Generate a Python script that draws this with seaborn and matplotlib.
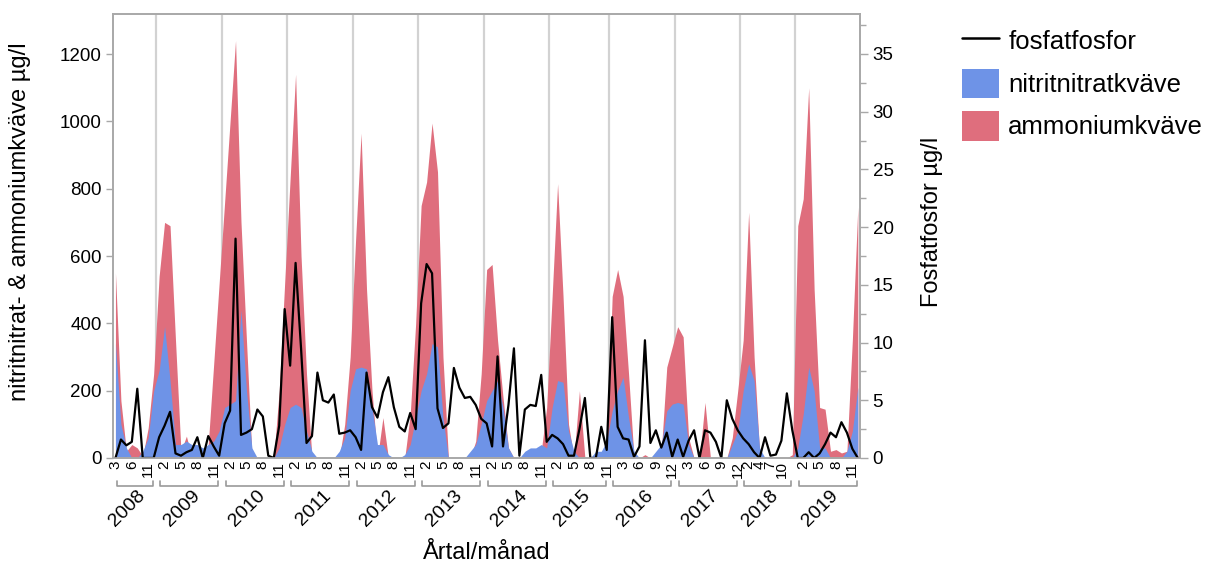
import pandas as pd
import matplotlib
matplotlib.use("Agg")
import matplotlib.pyplot as plt
import seaborn as sns
from matplotlib.lines import Line2D
from matplotlib.patches import Patch
from matplotlib.ticker import MultipleLocator
from matplotlib.transforms import blended_transform_factory

sns.set_theme(style="white")
plt.rcParams["font.family"] = ["Liberation Sans", "DejaVu Sans"]
plt.rcParams["text.color"] = "black"

# ---- data: one sample per (year, month), x axis is just the sample order ----
years = [2008, 2009, 2010, 2011, 2012, 2013, 2014, 2015, 2016, 2017, 2018, 2019]
months = [
    [3, 4, 5, 6, 8, 9, 11, 12],
    [1, 2, 3, 4, 5, 6, 7, 8, 9, 10, 11, 12],
    [1, 2, 3, 4, 5, 6, 7, 8, 9, 10, 11, 12],
    [1, 2, 3, 4, 5, 6, 7, 8, 9, 10, 11, 12],
    [1, 2, 3, 4, 5, 6, 7, 8, 9, 10, 11, 12],
    [1, 2, 3, 4, 5, 6, 7, 8, 9, 10, 11, 12],
    [1, 2, 3, 4, 5, 6, 7, 8, 9, 10, 11, 12],
    [1, 2, 3, 4, 5, 6, 7, 8, 9, 10, 11],
    [1, 2, 3, 4, 5, 6, 7, 8, 9, 10, 11, 12],
    [1, 2, 3, 4, 5, 6, 7, 8, 9, 10, 11, 12],
    [1, 2, 3, 4, 5, 7, 8, 10, 11, 12],
    [1, 2, 3, 4, 5, 6, 7, 8, 9, 10, 11, 12],
]
# months that get a tick label
label_months = [
    [3, 6, 11], [2, 5, 8, 11], [2, 5, 8, 11], [2, 5, 8, 11], [2, 5, 8, 11],
    [2, 5, 8, 11], [2, 5, 8, 11], [2, 5, 8, 11], [3, 6, 9, 12], [3, 6, 9, 12],
    [2, 4, 7, 10], [2, 5, 8, 11],
]

# ammoniumkväve, µg/l
ammonium = [
    550, 170, 20, 40, 30, 5, 90, 250,
    540, 700, 690, 350, 20, 65, 0, 0, 0, 40, 280, 520,
    760, 1000, 1240, 700, 350, 10, 0, 0, 0, 0, 200, 520,
    830, 1140, 600, 250, 0, 0, 0, 0, 0, 0, 100, 300,
    650, 965, 500, 200, 0, 120, 0, 0, 0, 0, 130, 400,
    750, 820, 995, 850, 300, 0, 0, 0, 0, 0, 50, 250,
    560, 575, 350, 180, 30, 0, 0, 0, 0, 0, 20, 150,
    480, 815, 480, 100, 0, 200, 0, 0, 0, 0, 20,
    480, 560, 480, 250, 0, 0, 10, 0, 0, 20, 270, 330,
    390, 360, 60, 0, 0, 165, 0, 0, 0, 0, 60, 200,
    350, 730, 300, 20, 0, 0, 0, 0, 0, 10,
    690, 770, 1100, 500, 150, 145, 20, 25, 15, 20, 350, 745,
]
# nitritnitratkväve, µg/l
nitrat = [
    340, 100, 30, 0, 0, 20, 60, 200,
    260, 390, 230, 40, 40, 50, 40, 40, 30, 40, 50, 80,
    150, 160, 170, 440, 200, 30, 0, 0, 0, 0, 30, 100,
    150, 160, 150, 80, 20, 0, 0, 0, 0, 20, 60, 200,
    265, 270, 265, 150, 40, 40, 10, 0, 0, 10, 40, 120,
    200, 250, 340, 330, 120, 0, 0, 0, 0, 20, 40, 100,
    170, 200, 230, 150, 30, 0, 0, 20, 30, 30, 40, 30,
    150, 230, 225, 80, 20, 0, 0, 0, 20, 20, 50,
    140, 200, 240, 120, 20, 0, 0, 0, 20, 40, 140, 160,
    165, 160, 40, 0, 0, 0, 0, 0, 0, 0, 40, 80,
    200, 280, 230, 30, 0, 0, 0, 0, 0, 0,
    30, 130, 270, 200, 30, 30, 0, 0, 0, 20, 80, 210,
]
# fosfatfosfor, µg/l (right axis)
fosfat = [
    0, 1.6, 1.1, 1.4, 6.0, 0, 0, 0,
    1.8, 2.8, 4.0, 0.4, 0.2, 0.5, 0.7, 1.8, 0, 1.9, 1.0, 0.2,
    3.0, 4.1, 19.0, 2.0, 2.2, 2.5, 4.2, 3.6, 0.2, 0, 2.8, 12.9,
    8.0, 16.9, 9.5, 1.3, 1.9, 7.4, 5.0, 4.8, 5.5, 2.1, 2.2, 2.4,
    1.8, 0.7, 7.4, 4.4, 3.5, 5.7, 7.0, 4.4, 2.7, 2.3, 3.9, 2.5,
    13.4, 16.8, 16.0, 4.3, 2.6, 3.0, 7.8, 6.1, 5.2, 5.3, 4.6, 3.4,
    3.0, 1.0, 8.8, 1.0, 4.6, 9.5, 0.2, 4.2, 4.6, 4.5, 7.2, 1.4,
    2.0, 1.7, 1.2, 0.2, 0.2, 2.5, 5.2, 0, 0, 2.7, 0.7,
    12.2, 2.7, 1.7, 1.6, 0.1, 1.0, 10.2, 1.3, 2.4, 0.9, 2.2, 0.1,
    1.6, 0.1, 1.5, 2.4, 0, 2.4, 2.2, 1.4, 0, 5.0, 3.4, 2.4,
    1.7, 1.2, 0.5, 0, 1.8, 0.2, 0.3, 1.5, 5.6, 2.4,
    0, 0, 0.5, 0, 0.4, 1.2, 2.2, 1.8, 3.1, 2.2, 0.8, 0,
]

rows = [(y, m) for y, ms in zip(years, months) for m in ms]
df = pd.DataFrame(rows, columns=["year", "month"])
df["pos"] = range(len(df))
df["ammonium"] = ammonium
df["nitrat"] = nitrat
df["fosfat"] = fosfat

BLUE = "#6e93e7"
RED = "#df6e7d"
GRAY = "#a8a8a8"

W, H = 1205, 568
fig = plt.figure(figsize=(W / 100, H / 100), dpi=100)
ax = fig.add_axes([113 / W, 1 - 458 / H, 747 / W, 444 / H])

# year separators
starts = df.groupby("year")["pos"].min()
ends = df.groupby("year")["pos"].max()
for s in starts.values[1:]:
    ax.axvline(s - 0.5, color="#d2d2d2", lw=1.6, zorder=0)

ax.fill_between(df["pos"], 0, df["ammonium"], color=RED, lw=0, zorder=1)
ax.fill_between(df["pos"], 0, df["nitrat"], color=BLUE, lw=0, zorder=2)

ax2 = ax.twinx()
sns.lineplot(data=df, x="pos", y="fosfat", ax=ax2, color="black", lw=1.6,
             estimator=None, legend=False)

ax.set_xlim(-0.45, len(df) - 1 + 0.4)
ax.set_ylim(0, 1319)
ax.set_yticks(range(0, 1201, 200))
ax2.set_ylim(0, 38.46)
ax2.set_yticks(range(0, 36, 5))
ax2.yaxis.set_minor_locator(MultipleLocator(2.5))
ax2.set_xlabel("")
ax2.set_ylabel("")

# month tick labels
tick_pos, tick_lab = [], []
for y, lm in zip(years, label_months):
    sub = df[df["year"] == y]
    for m in lm:
        tick_pos.append(sub.loc[sub["month"] == m, "pos"].iloc[0])
        tick_lab.append(str(m))
ax.set_xticks(tick_pos)
ax.set_xticklabels(tick_lab, rotation=90)

for a in (ax, ax2):
    for sp in a.spines.values():
        sp.set_color(GRAY)
        sp.set_linewidth(1.2)
ax.tick_params(axis="x", bottom=True, length=0, labelsize=11, pad=2,
               labelcolor="black")
ax.tick_params(axis="y", left=True, length=5, width=1, color=GRAY,
               labelsize=13.5, pad=3, labelcolor="black")
ax2.tick_params(axis="y", which="major", right=True, length=6, width=1,
                color=GRAY, labelsize=13.5, pad=3, labelcolor="black")
ax2.tick_params(axis="y", which="minor", right=True, length=4, width=1,
                color=GRAY)

# year brackets and labels under the month labels
tr = blended_transform_factory(ax.transData, fig.transFigure)
yb, yt = 1 - 486 / H, 1 - 481 / H
for y in years:
    x0, x1 = starts[y] + 0.2, ends[y] - 0.2
    ax.plot([x0, x0, x1, x1], [yt, yb, yb, yt], transform=tr, color="#9a9a9a",
            lw=1.2, clip_on=False)
    xc = (starts[y] + ends[y]) / 2 + 0.4
    ax.text(xc, 1 - 487 / H, str(y), transform=tr, rotation=45,
            rotation_mode="anchor", ha="right", va="top", fontsize=14)

fig.text(20 / W, 1 - 222 / H, "nitritnitrat- & ammoniumkväve µg/l",
         rotation=90, ha="center", va="center", fontsize=17)
fig.text(932 / W, 1 - 222 / H, "Fosfatfosfor µg/l", rotation=90,
         ha="center", va="center", fontsize=17)
fig.text(487 / W, 1 - 553 / H, "Årtal/månad", ha="center", va="center",
         fontsize=17)

handles = [Line2D([0], [0], color="black", lw=1.8),
           Patch(facecolor=BLUE, edgecolor="none"),
           Patch(facecolor=RED, edgecolor="none")]
fig.legend(handles, ["fosfatfosfor", "nitritnitratkväve", "ammoniumkväve"],
           loc="upper left", bbox_to_anchor=(962 / W, 1 - 26 / H),
           frameon=False, fontsize=18.5, handlelength=1.45, handleheight=1.4,
           labelspacing=0.5, handletextpad=0.35, borderaxespad=0, borderpad=0)

fig.savefig("out.png", dpi=100)
plt.close(fig)
